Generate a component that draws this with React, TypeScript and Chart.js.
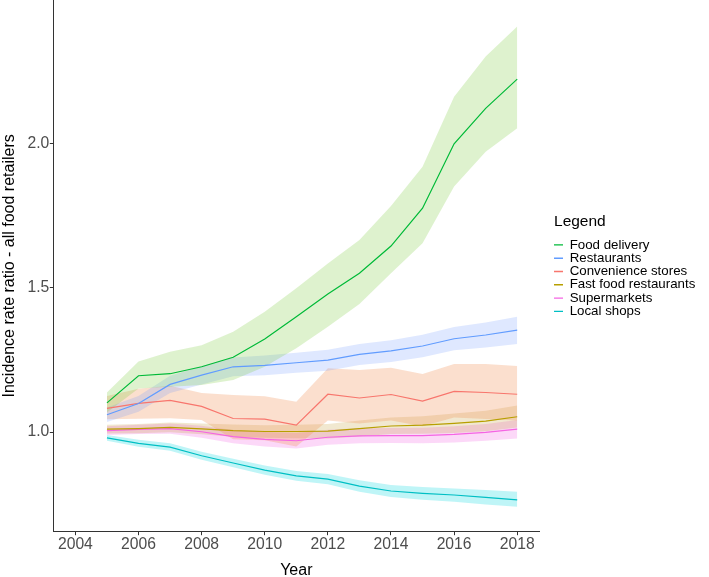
import React, { useEffect, useRef } from "react";
import { Chart, registerables } from "chart.js";

Chart.register(...registerables);

const years = [2005, 2006, 2007, 2008, 2009, 2010, 2011, 2012, 2013, 2014, 2015, 2016, 2017, 2018];

const seriesNames = ["Food delivery", "Restaurants", "Convenience stores", "Fast food restaurants", "Supermarkets", "Local shops"];

const foodDelivery = [1.101, 1.195, 1.202, 1.226, 1.259, 1.322, 1.399, 1.478, 1.55, 1.644, 1.775, 1.998, 2.121, 2.222];
const foodDeliveryUpper = [1.137, 1.244, 1.278, 1.301, 1.347, 1.417, 1.498, 1.584, 1.665, 1.783, 1.919, 2.161, 2.3, 2.404];
const foodDeliveryLower = [1.068, 1.151, 1.157, 1.163, 1.18, 1.226, 1.29, 1.365, 1.443, 1.55, 1.654, 1.85, 1.971, 2.052];

const restaurants = [1.06, 1.099, 1.165, 1.197, 1.226, 1.231, 1.24, 1.249, 1.269, 1.281, 1.298, 1.323, 1.336, 1.353];
const restaurantsUpper = [1.085, 1.125, 1.195, 1.228, 1.258, 1.265, 1.275, 1.285, 1.305, 1.318, 1.337, 1.364, 1.379, 1.399];
const restaurantsLower = [1.035, 1.07, 1.135, 1.165, 1.193, 1.197, 1.205, 1.212, 1.232, 1.243, 1.259, 1.283, 1.293, 1.305];

const convenience = [1.082, 1.099, 1.11, 1.089, 1.047, 1.045, 1.024, 1.131, 1.118, 1.13, 1.107, 1.141, 1.137, 1.131];
const convenienceUpper = [1.125, 1.15, 1.16, 1.135, 1.128, 1.124, 1.105, 1.221, 1.215, 1.223, 1.201, 1.236, 1.236, 1.229];
const convenienceLower = [1.044, 1.046, 1.048, 1.042, 0.975, 0.972, 0.95, 1.04, 1.03, 1.04, 1.02, 1.05, 1.045, 1.04];

const fastFood = [1.01, 1.012, 1.016, 1.011, 1.005, 1.002, 1.002, 1.003, 1.012, 1.021, 1.024, 1.03, 1.038, 1.053];
const fastFoodUpper = [1.025, 1.028, 1.033, 1.03, 1.026, 1.024, 1.025, 1.028, 1.04, 1.05, 1.055, 1.064, 1.074, 1.092];
const fastFoodLower = [0.995, 0.996, 0.999, 0.992, 0.984, 0.98, 0.979, 0.978, 0.985, 0.993, 0.994, 0.997, 1.003, 1.016];

const supermarkets = [1.005, 1.009, 1.012, 1.001, 0.984, 0.975, 0.97, 0.982, 0.987, 0.988, 0.988, 0.992, 0.999, 1.01];
const supermarketsUpper = [1.02, 1.025, 1.03, 1.022, 1.007, 1.0, 0.997, 1.008, 1.013, 1.014, 1.015, 1.02, 1.028, 1.042];
const supermarketsLower = [0.99, 0.993, 0.994, 0.98, 0.961, 0.95, 0.943, 0.956, 0.961, 0.962, 0.961, 0.964, 0.97, 0.978];

const localShops = [0.98, 0.961, 0.948, 0.918, 0.893, 0.868, 0.848, 0.837, 0.813, 0.796, 0.788, 0.782, 0.774, 0.765];
const localShopsUpper = [0.99, 0.973, 0.961, 0.932, 0.908, 0.884, 0.865, 0.855, 0.833, 0.817, 0.81, 0.805, 0.799, 0.793];
const localShopsLower = [0.97, 0.949, 0.935, 0.904, 0.878, 0.852, 0.831, 0.819, 0.793, 0.775, 0.766, 0.759, 0.749, 0.741];

const lineColors = ["#00BA38", "#619CFF", "#F8766D", "#B79F00", "#F564E3", "#00BFC4"];
const bandColors = [
  "rgba(124,205,60,0.25)",
  "rgba(97,140,255,0.2)",
  "rgba(240,140,80,0.28)",
  "rgba(190,150,40,0.22)",
  "rgba(245,100,227,0.25)",
  "rgba(0,215,225,0.25)",
];

const xTicks = [2004, 2006, 2008, 2010, 2012, 2014, 2016, 2018];
const yTicks = [1.0, 1.5, 2.0];

const FONT = "'Liberation Sans', Arial, Helvetica, sans-serif";

export default function App() {
  const ref = useRef<HTMLCanvasElement | null>(null);

  useEffect(() => {
    if (!ref.current) return;
    const mid = [foodDelivery, restaurants, convenience, fastFood, supermarkets, localShops];
    const up = [foodDeliveryUpper, restaurantsUpper, convenienceUpper, fastFoodUpper, supermarketsUpper, localShopsUpper];
    const lo = [foodDeliveryLower, restaurantsLower, convenienceLower, fastFoodLower, supermarketsLower, localShopsLower];
    const pts = (arr: number[]) => years.map((x, i) => ({ x, y: arr[i] }));

    const datasets: any[] = [];
    seriesNames.forEach((name, s) => {
      datasets.push({
        label: name,
        data: pts(mid[s]),
        borderColor: lineColors[s],
        backgroundColor: lineColors[s],
        pointBorderColor: lineColors[s],
        pointBackgroundColor: lineColors[s],
        pointBorderWidth: 1.4,
        borderWidth: 1.2,
        pointRadius: 0,
        fill: false,
        tension: 0,
      });
    });
    seriesNames.forEach((name, s) => {
      datasets.push({
        label: name + " upper",
        data: pts(up[s]),
        borderColor: "rgba(0,0,0,0)",
        backgroundColor: bandColors[s],
        borderWidth: 0,
        pointRadius: 0,
        fill: "+1",
        tension: 0,
      });
      datasets.push({
        label: name + " lower",
        data: pts(lo[s]),
        borderColor: "rgba(0,0,0,0)",
        backgroundColor: bandColors[s],
        borderWidth: 0,
        pointRadius: 0,
        fill: false,
        tension: 0,
      });
    });

    const chart = new Chart(ref.current, {
      type: "line",
      data: { datasets },
      options: {
        animation: false,
        responsive: true,
        maintainAspectRatio: false,
        events: [],
        layout: { padding: { left: 0, top: 0, right: 3.7, bottom: 0 } },
        scales: {
          x: {
            type: "linear",
            min: 2003.3,
            max: 2018.7,
            afterBuildTicks: (scale: any) => {
              scale.ticks = xTicks.map((v) => ({ value: v }));
            },
            afterFit: (scale: any) => {
              scale.height = 45.3;
              scale.paddingLeft = 0;
              scale.paddingRight = 0;
            },
            ticks: {
              callback: (v: any) => String(v),
              color: "#4D4D4D",
              font: { family: FONT, size: 15.7 },
              padding: 0,
              maxRotation: 0,
              autoSkip: false,
            },
            grid: { display: true, drawOnChartArea: false, drawTicks: true, tickLength: 3.5, color: "#333333", lineWidth: 1 },
            border: { display: true, color: "#333333", width: 1 },
            title: {
              display: true,
              text: "Year",
              color: "#000000",
              font: { family: FONT, size: 16, lineHeight: 0.75 },
              padding: 0,
            },
          },
          y: {
            type: "linear",
            min: 0.655,
            max: 2.496,
            afterBuildTicks: (scale: any) => {
              scale.ticks = yTicks.map((v) => ({ value: v }));
            },
            afterFit: (scale: any) => {
              scale.width = 53.3;
              scale.paddingTop = 0;
              scale.paddingBottom = 0;
            },
            ticks: {
              callback: (v: any) => Number(v).toFixed(1),
              color: "#4D4D4D",
              font: { family: FONT, size: 15.7 },
              padding: 0.5,
              autoSkip: false,
            },
            grid: { display: true, drawOnChartArea: false, drawTicks: true, tickLength: 3.5, color: "#333333", lineWidth: 1 },
            border: { display: true, color: "#333333", width: 1 },
            title: {
              display: true,
              text: "Incidence rate ratio - all food retailers",
              color: "#000000",
              font: { family: FONT, size: 16 },
              padding: 0,
            },
          },
          gap: {
            type: "linear",
            position: "right",
            display: true,
            grid: { display: false, drawTicks: false },
            ticks: { display: false },
            border: { display: false },
            afterFit: (scale: any) => {
              scale.width = 14.7;
              scale.paddingTop = 0;
              scale.paddingBottom = 0;
            },
          },
        },
        plugins: {
          filler: { drawTime: "beforeDatasetsDraw" } as any,
          tooltip: { enabled: false },
          legend: {
            display: true,
            position: "right",
            align: "center",
            fullSize: false,
            maxWidth: 300,
            title: {
              display: true,
              text: "Legend",
              color: "#000000",
              position: "start",
              font: { family: FONT, size: 15.5 },
              padding: { top: 0, bottom: 6 },
            },
            labels: {
              filter: (item: any) => item.datasetIndex < seriesNames.length,
              color: "#000000",
              font: { family: FONT, size: 13.3 },
              padding: 0,
              usePointStyle: true,
              pointStyle: "line",
              pointStyleWidth: 9,
              boxWidth: 9,
            },
          },
        },
      } as any,
    });
    return () => chart.destroy();
  }, []);

  return (
    <div style={{ position: "absolute", left: 0, top: 0, width: 709, height: 577, background: "#ffffff" }}>
      <canvas ref={ref} />
    </div>
  );
}
